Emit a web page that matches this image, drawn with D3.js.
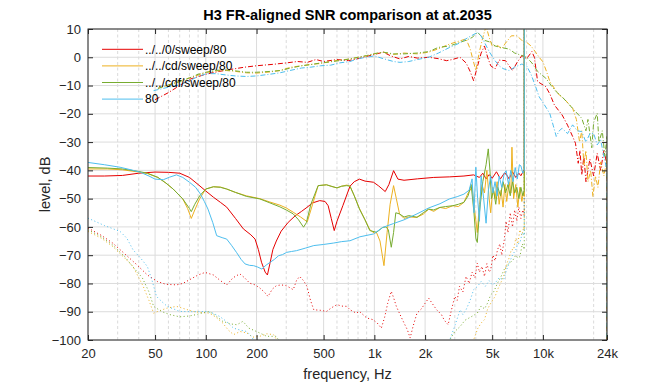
<!DOCTYPE html>
<html>
<head>
<meta charset="utf-8">
<script src="https://cdn.jsdelivr.net/npm/d3@7"></script>
<style>
  body { margin: 0; background: #fff; }
  svg { font-family: "Liberation Sans", Arial, Helvetica, sans-serif; }
</style>
</head>
<body>
<svg width="672" height="384"></svg>
<script>
// legend names and colours
const seriesNames = ["../../0/sweep/80", "../../cd/sweep/80", "../../cdf/sweep/80", "80"];
const seriesColors = ["#e60000", "#edb120", "#77ac30", "#4dbeee"];

const xTicks = [20, 50, 100, 200, 500, 1000, 2000, 5000, 10000, 24000];
const xTickLabels = ["20", "50", "100", "200", "500", "1k", "2k", "5k", "10k", "24k"];
const yTicks = [-100, -90, -80, -70, -60, -50, -40, -30, -20, -10, 0, 10];

// [frequency Hz, level dB] -- solid lines
const snr0 = [[20,-42],[25,-42],[32,-41.8],[40,-41],[50,-40.6],[60,-40.7],[70,-41],[80,-42.5],[90,-45],[100,-47.3],[111,-49.5],[122,-51.3],[133,-53],[150,-57],[167,-60.7],[185,-62.8],[196,-64.3],[205,-68],[214,-72.5],[225,-76],[232,-77],[240,-73],[250,-68],[262,-65],[280,-61.5],[308,-58.4],[340,-56],[370,-54.5],[398,-53.1],[430,-51.5],[474,-50.7],[510,-51],[532,-52.5],[555,-57],[578,-61.3],[600,-58],[650,-52.5],[717,-45.6],[760,-44],[816,-43.1],[880,-43.8],[988,-44.2],[1060,-45.5],[1160,-47.5],[1220,-45],[1300,-40.1],[1380,-43.1],[1500,-43.5],[1800,-43],[2250,-42.5],[2800,-42.3],[3400,-42],[3880,-41.6],[4200,-42.5],[4400,-41],[4600,-43],[4800,-41.5],[5000,-42.8],[5300,-40.5],[5600,-43],[5900,-41],[6050,-41.3],[6300,-43],[6600,-40.5],[6900,-42.5],[7200,-41],[7400,-41.9],[7700,-40],[7750,-41],[7750,30]];
const snrCd = [[20,-39.5],[26,-39.5],[32,-39.8],[40,-40.6],[45,-41.1],[52,-42.5],[58,-44.5],[64,-46.6],[73,-50.1],[78,-53.5],[82,-57],[86,-54],[92,-50],[100,-46.6],[111,-45.8],[122,-45.9],[133,-46.6],[150,-47.8],[174,-49],[209,-50],[240,-51.2],[275,-52.3],[300,-53.3],[330,-54.8],[365,-56.5],[400,-58.2],[430,-52],[464,-45.4],[520,-45.1],[560,-45.7],[600,-46.2],[640,-45.6],[686,-45.2],[717,-45.6],[760,-49],[816,-53.5],[880,-57.5],[940,-61],[1000,-62.2],[1030,-62],[1080,-65],[1140,-73.7],[1190,-62],[1240,-52],[1300,-45.4],[1350,-50],[1410,-55.4],[1500,-57],[1600,-56.5],[1790,-56.6],[1950,-55.5],[2100,-53.7],[2250,-54.5],[2450,-53.1],[2650,-53.5],[2920,-52.5],[3150,-52.8],[3400,-51.3],[3600,-48],[3800,-46],[3950,-55],[4080,-62],[4200,-52],[4350,-45],[4500,-48],[4650,-40],[4800,-50],[4900,-55],[5050,-46],[5200,-50],[5350,-44],[5500,-52],[5650,-47],[5800,-53],[5950,-45],[6100,-51],[6300,-44],[6450,-48],[6550,-31.8],[6700,-50],[6900,-45],[7100,-53],[7300,-46],[7500,-51],[7650,-48],[7750,-49],[7750,30]];
const snrCdf = [[20,-39],[26,-39.2],[32,-39.5],[40,-40.4],[45,-41],[52,-42.5],[58,-44.5],[64,-46.6],[73,-50.1],[80,-53.5],[82,-54.6],[86,-52],[92,-49],[100,-46.6],[111,-45.8],[122,-46],[133,-46.6],[150,-47.8],[174,-49.2],[209,-50.1],[240,-51.5],[275,-52.9],[300,-54],[330,-55.4],[355,-57.5],[380,-60.1],[395,-58.5],[420,-52],[464,-45.4],[520,-45.1],[560,-45.7],[600,-46.2],[640,-45.6],[686,-45.4],[717,-45.6],[760,-49],[816,-53.7],[880,-57.5],[940,-61.3],[1030,-61.9],[1120,-60.2],[1170,-60],[1210,-61],[1260,-67.2],[1300,-62],[1340,-55],[1410,-55.4],[1500,-56.5],[1600,-56],[1790,-56.6],[1950,-55],[2100,-53.7],[2250,-54],[2450,-53.1],[2650,-52.8],[2920,-52.5],[3150,-52],[3400,-51.3],[3600,-49],[3750,-45],[3900,-55],[4000,-64],[4080,-65.5],[4200,-55],[4400,-44],[4600,-38],[4740,-32.4],[4850,-40],[4950,-50],[5100,-47],[5250,-52],[5400,-46],[5600,-49],[5800,-44],[6000,-48],[6200,-45],[6400,-49],[6600,-44],[6800,-48],[7000,-46],[7200,-50],[7400,-46],[7600,-49],[7750,-47],[7750,30]];
const snr80 = [[20,-37.2],[25,-38],[31,-38.9],[36,-39.8],[41,-40.7],[46,-42],[50,-43.1],[56,-43.3],[61,-42.4],[67,-41.6],[73,-42.5],[80,-44.2],[87,-46],[93,-48.4],[98,-51],[103,-53.7],[110,-58.5],[116,-63.1],[125,-63.8],[133,-64.3],[142,-66.5],[152,-69],[162,-71.5],[171,-73.1],[182,-73.6],[192,-73.7],[203,-74.2],[215,-74.9],[228,-73.5],[241,-72.5],[255,-71.5],[270,-70.2],[285,-69.8],[302,-69],[322,-68.7],[345,-68.4],[390,-67.5],[437,-66.6],[500,-66.2],[574,-65.7],[640,-65.2],[717,-64.9],[820,-63.5],[988,-62.5],[1120,-60.2],[1300,-58.8],[1500,-57.5],[1790,-55.4],[2100,-53.3],[2450,-51.8],[2790,-50.1],[3100,-49.3],[3400,-48.4],[3650,-47],[3800,-43],[3900,-55],[4000,-38.9],[4100,-50],[4200,-58],[4300,-42],[4450,-50],[4600,-58.7],[4750,-47],[4900,-42],[5050,-48],[5200,-44],[5350,-49],[5500,-42],[5700,-46],[5900,-41],[6050,-40.1],[6250,-45],[6450,-40],[6650,-44],[6850,-39],[7050,-43],[7250,-38],[7400,-38.4],[7600,-41],[7750,-40],[7750,30]];

// dash-dot lines
const sig0 = [[50,-15],[60,-12.5],[70,-10],[80,-7.8],[100,-6],[120,-5],[140,-4.3],[170,-3.5],[200,-3],[250,-2.5],[300,-2],[350,-1.5],[400,-1.8],[450,-0.8],[500,-1.5],[600,-0.8],[700,-1.2],[800,-0.5],[900,0.3],[1000,1],[1130,1.8],[1250,0.5],[1420,-0.6],[1600,0.3],[1800,-0.3],[2100,0],[2400,-0.5],[2680,-1.2],[2900,-0.8],[3220,0],[3500,-2],[3700,-5],[3880,-8.3],[4100,-3],[4300,1.5],[4500,4],[4700,0],[4900,-3],[5200,-4.1],[5500,-1],[6000,-1.2],[6300,-3],[6600,-4.7],[7000,-2],[7500,0.6],[8000,-0.5],[8600,2],[8900,0],[9300,-8.6],[10400,-10.4],[11000,-13],[11700,-16.9],[13000,-20.4],[14000,-24],[15000,-28],[15600,-30.4],[16200,-37.5],[16600,-33],[17000,-41.6],[17500,-35],[18000,-44],[19000,-36],[20000,-42],[21000,-34],[22000,-40],[23000,-33],[24000,-38],[24000,-120]];
const sigCd = [[52,-11],[60,-9.8],[70,-8.5],[80,-7.3],[90,-6.3],[101,-5.3],[115,-4.8],[133,-4.7],[150,-5],[174,-5.5],[200,-5.6],[240,-5.2],[275,-4.7],[320,-3.5],[370,-3],[420,-2.5],[480,-2.2],[550,-1.5],[620,-1],[717,-0.6],[800,0],[900,0.5],[1000,1.2],[1130,1.8],[1300,1],[1500,1.5],[1800,1.2],[2100,1.8],[2400,3],[2800,4.7],[3100,5.5],[3500,6.5],[3700,3],[3850,-1],[4000,-4.7],[4200,2],[4400,7],[4600,11],[4800,7],[5000,4],[5400,4.1],[5700,3],[6000,5],[6500,7.6],[7000,7.6],[7500,6],[8000,5.3],[8500,4],[9000,2],[9500,0],[10000,-1.6],[10500,-5],[11000,-8.6],[11700,-11],[12500,-13.3],[13500,-15],[15000,-18],[15800,-22],[16500,-30],[17000,-26],[17500,-38],[18000,-33],[18500,-44],[19200,-40],[19800,-49.3],[20500,-42],[21200,-46],[22000,-37],[23000,-42],[24000,-36],[24000,-120]];
const sigCdf = [[52,-11],[60,-9.8],[70,-8.6],[80,-7.3],[90,-6],[101,-5.3],[115,-4.6],[133,-4.5],[150,-4.8],[174,-5.3],[200,-5.3],[240,-5],[275,-4.7],[320,-3.8],[370,-3],[420,-2.6],[480,-2],[550,-1.6],[620,-1.2],[717,-0.6],[800,0],[900,0.6],[1000,1.3],[1130,1.8],[1300,1.2],[1500,1.2],[1800,1.5],[2100,2],[2400,3.5],[2800,4],[3220,5.3],[3500,6],[3800,7],[4100,8.8],[4300,7.5],[4500,6],[4900,5.3],[5200,4],[5600,3.5],[6300,2.9],[6800,1.5],[7500,0.6],[8000,0],[8600,-2],[9300,-5],[10400,-7.4],[11200,-10],[12000,-12.2],[13000,-14],[14400,-16.9],[15500,-19],[17000,-21.6],[18000,-26],[18500,-22],[19500,-32],[20000,-23],[21000,-19.8],[21500,-30],[22500,-26],[23300,-35],[24000,-28],[24000,-120]];
const sig80 = [[49,-11.8],[56,-11],[63,-10.3],[70,-9.8],[80,-8.3],[90,-6.8],[101,-5.8],[115,-5.8],[133,-6.3],[150,-6.6],[174,-6.8],[200,-6.6],[240,-6],[275,-5.5],[320,-4.6],[370,-3.8],[420,-3.5],[480,-3],[550,-2.8],[620,-2],[717,-1.5],[800,-0.5],[900,0],[1000,0.5],[1130,-0.5],[1300,-1.5],[1420,-1.8],[1600,-1.5],[1800,-0.8],[2100,0],[2400,1.5],[2800,3.5],[3200,5],[3600,7],[4100,8.8],[4300,7.5],[4500,5.3],[4800,2],[5200,-1.2],[5500,-3],[5800,-4],[6300,-4.7],[6800,-3.5],[7500,-2.4],[8000,-3],[8500,-6],[9000,-10],[9500,-14],[10000,-16],[10500,-18],[11000,-20],[11500,-24],[12000,-28],[12500,-26],[13000,-25.1],[14000,-27],[15000,-23.9],[16000,-26],[17000,-26.3],[18000,-30],[19000,-27],[20000,-26.9],[21000,-31],[22000,-29.2],[23000,-35],[24000,-40],[24000,-120]];

// dotted lines
const noise0 = [[20,-60.4],[24,-63],[28,-65.7],[33,-69.5],[39,-73.4],[45,-77],[51.5,-79.3],[58,-80.3],[67,-80.5],[73,-80],[80,-78.7],[90,-77],[99,-76.1],[111,-77],[122,-79],[133,-80.5],[145,-78],[159,-76.6],[170,-78],[182,-79.9],[196,-80.5],[209,-81.6],[222,-83],[234,-84.6],[248,-82],[262,-80.8],[280,-80.5],[300,-80.8],[315,-81.5],[330,-82.2],[345,-79],[360,-77.5],[380,-79],[398,-81],[418,-86],[437,-89.3],[480,-89.5],[520,-89.9],[560,-88.5],[600,-87.5],[640,-88],[686,-88.1],[717,-89.3],[780,-90.5],[816,-89.9],[900,-92.2],[980,-92.8],[1040,-94],[1100,-95.8],[1150,-92],[1200,-87],[1260,-82.8],[1300,-85],[1350,-88.1],[1420,-91],[1500,-94],[1570,-96.4],[1630,-99.3],[1700,-95],[1790,-90.5],[1900,-89],[2000,-87],[2100,-85.2],[2200,-87],[2340,-89.3],[2500,-91],[2600,-93],[2740,-94.6],[2850,-90],[3000,-84.6],[3100,-86],[3200,-81],[3350,-83],[3500,-77.5],[3650,-80],[3800,-76],[3950,-78],[4080,-72.8],[4200,-76],[4350,-74],[4500,-77.5],[4650,-73],[4800,-76],[4900,-75.2],[5050,-70],[5200,-72],[5380,-68.1],[5550,-66],[5700,-70],[5900,-64.6],[6050,-58],[6200,-62],[6400,-55],[6600,-60],[6800,-54],[7000,-58],[7200,-53],[7400,-57],[7600,-54],[7750,-56],[7750,30]];
const noiseCd = [[20,-61.6],[24,-64],[28,-66.9],[33,-71],[37,-74],[42.5,-81],[46,-86],[49,-90.5],[54,-89.5],[59,-88.7],[67,-88.1],[75,-89],[84,-89.9],[95,-90.3],[105,-90.5],[115,-92],[126,-94],[136,-96.5],[146,-98.1],[160,-97],[175,-97.5],[190,-99],[209,-98.7],[230,-97.8],[252,-98.1],[270,-101],[290,-104],[3500,-104],[3880,-100],[4100,-96],[4300,-94],[4500,-92.8],[4700,-89],[4900,-87],[5200,-84.6],[5400,-82],[5600,-80],[5850,-77.5],[6100,-73],[6300,-71],[6500,-68],[6700,-68.1],[6900,-64],[7100,-66],[7300,-61],[7500,-63],[7700,-60],[7750,-61],[7750,30]];
const noiseCdf = [[20,-61],[24,-63.5],[28,-66.4],[33,-70.5],[38,-75],[42,-78],[46,-83],[49,-88.1],[55,-90],[61,-91],[70,-91.8],[80,-91.5],[88,-91],[97,-90.3],[105,-89.9],[115,-91.5],[126,-93.4],[140,-94.3],[153,-94.6],[166,-93.4],[180,-95.8],[200,-97],[230,-98.7],[260,-98.7],[280,-101],[300,-104],[2700,-104],[2800,-100],[3000,-97],[3230,-95.2],[3450,-93],[3700,-92],[4080,-90.5],[4300,-88],[4500,-89],[4700,-86.9],[4900,-84],[5100,-83],[5380,-79.9],[5600,-78],[5900,-75],[6100,-74],[6300,-72.8],[6600,-72],[6900,-70],[7100,-71],[7300,-70.5],[7550,-66],[7750,-68],[7750,30]];
const noise80 = [[20,-56.9],[25,-59.5],[31,-61.6],[34,-64],[37,-68.1],[41,-71],[45,-74],[48,-79],[51,-84.6],[55,-86.5],[59,-88.1],[70,-89.9],[85,-90],[101,-89.9],[110,-90.5],[121,-91.7],[133,-93.5],[146,-95.8],[160,-96.5],[175,-97],[185,-98.5],[195,-100.5],[210,-104],[2600,-104],[2800,-100],[3000,-95],[3230,-89.3],[3350,-91],[3500,-89.3],[3700,-86],[3880,-82.2],[4100,-81],[4300,-79.3],[4550,-81],[4800,-79],[5000,-80.5],[5200,-79.9],[5500,-78],[5850,-78.7],[6100,-75],[6300,-72.8],[6600,-70],[6900,-68],[7100,-66],[7300,-65.7],[7550,-62],[7750,-63],[7750,30]];

const snrLines = [snr0, snrCd, snrCdf, snr80];
const sigLines = [sig0, sigCd, sigCdf, sig80];
const noiseLines = [noise0, noiseCd, noiseCdf, noise80];

const svg = d3.select("svg"),
    width = +svg.attr("width"),
    height = +svg.attr("height");

const plotLeft = 88, plotRight = 607, plotTop = 29, plotBottom = 340;

const x = d3.scaleLog().domain([20, 24000]).range([plotLeft, plotRight]);
const y = d3.scaleLinear().domain([-100, 10]).range([plotBottom, plotTop]);

// minor grid: integer multiples inside each decade that are not ticks
const minorX = [];
[10, 100, 1000, 10000].forEach(d => {
    for (let k = 2; k <= 9; k++) {
        const v = k * d;
        if (v > 20 && v < 24000 && !xTicks.includes(v)) minorX.push(v);
    }
});

const grid = svg.append("g").attr("class", "grid");
grid.selectAll("line.minor")
    .data(minorX)
    .enter().append("line")
    .attr("x1", d => x(d)).attr("x2", d => x(d))
    .attr("y1", plotTop).attr("y2", plotBottom)
    .style("stroke", "#dadada")
    .style("stroke-dasharray", "3,2.5");
grid.selectAll("line.vmajor")
    .data(xTicks)
    .enter().append("line")
    .attr("x1", d => x(d)).attr("x2", d => x(d))
    .attr("y1", plotTop).attr("y2", plotBottom)
    .style("stroke", "#dcdcdc");
grid.selectAll("line.hmajor")
    .data(yTicks)
    .enter().append("line")
    .attr("x1", plotLeft).attr("x2", plotRight)
    .attr("y1", d => y(d)).attr("y2", d => y(d))
    .style("stroke", "#dcdcdc");

svg.append("clipPath").attr("id", "plot-clip")
    .append("rect")
    .attr("x", plotLeft).attr("y", plotTop)
    .attr("width", plotRight - plotLeft).attr("height", plotBottom - plotTop);

const line = d3.line()
    .x(d => x(d[0]))
    .y(d => y(d[1]));

const plot = svg.append("g").attr("clip-path", "url(#plot-clip)");

function drawLines(sets, dash) {
    plot.append("g")
        .selectAll("path")
        .data(sets)
        .enter().append("path")
        .attr("d", line)
        .style("fill", "none")
        .style("stroke", (d, i) => seriesColors[i])
        .style("stroke-width", 1)
        .style("stroke-dasharray", dash);
}

// noise floor first so the blue solid line ends up on top at the 7.75k jump
drawLines(noiseLines, "1,2.5");
drawLines(sigLines, "5,2,1,2");
drawLines(snrLines, null);

// axes
const fmt = (d, i) => xTickLabels[i];
svg.append("g")
    .attr("transform", `translate(0,${plotBottom})`)
    .call(d3.axisBottom(x).tickValues(xTicks).tickFormat(fmt).tickSizeInner(-5).tickSizeOuter(0).tickPadding(9));
svg.append("g")
    .attr("transform", `translate(0,${plotTop})`)
    .call(d3.axisTop(x).tickValues(xTicks).tickFormat("").tickSizeInner(-5).tickSizeOuter(0));
svg.append("g")
    .attr("transform", `translate(${plotLeft},0)`)
    .call(d3.axisLeft(y).tickValues(yTicks).tickSizeInner(-5).tickSizeOuter(0).tickPadding(7));
svg.append("g")
    .attr("transform", `translate(${plotRight},0)`)
    .call(d3.axisRight(y).tickValues(yTicks).tickFormat("").tickSizeInner(-5).tickSizeOuter(0));

svg.selectAll(".domain").remove();
svg.selectAll(".tick line").style("stroke", "#262626");
svg.selectAll(".tick text").style("fill", "#262626").style("font-size", "13px")
    .style("font-family", "'Liberation Sans', Arial, sans-serif");

svg.append("rect")
    .attr("x", plotLeft).attr("y", plotTop)
    .attr("width", plotRight - plotLeft).attr("height", plotBottom - plotTop)
    .style("fill", "none")
    .style("stroke", "#262626")
    .style("stroke-width", 1);

// titles
svg.append("text")
    .attr("x", (plotLeft + plotRight) / 2)
    .attr("y", 20)
    .attr("text-anchor", "middle")
    .style("font-size", "14.5px")
    .style("font-weight", "bold")
    .style("fill", "#000")
    .text("H3 FR-aligned SNR comparison at at.2035");

svg.append("text")
    .attr("x", (plotLeft + plotRight) / 2)
    .attr("y", 379)
    .attr("text-anchor", "middle")
    .style("font-size", "14.5px")
    .style("fill", "#262626")
    .text("frequency, Hz");

svg.append("text")
    .attr("transform", `translate(50,${(plotTop + plotBottom) / 2}) rotate(-90)`)
    .attr("text-anchor", "middle")
    .style("font-size", "14.5px")
    .style("fill", "#262626")
    .text("level, dB");

// legend, no box
const legend = svg.append("g")
    .selectAll("g")
    .data(seriesNames)
    .enter().append("g")
    .attr("transform", (d, i) => `translate(102,${49.3 + i * 16.6})`);
legend.append("line")
    .attr("x1", 0).attr("x2", 41)
    .style("stroke", (d, i) => seriesColors[i])
    .style("stroke-width", 1);
legend.append("text")
    .attr("x", 43)
    .attr("dy", "0.35em")
    .style("font-size", "12px")
    .style("fill", "#000")
    .text(d => d);
</script>
</body>
</html>
